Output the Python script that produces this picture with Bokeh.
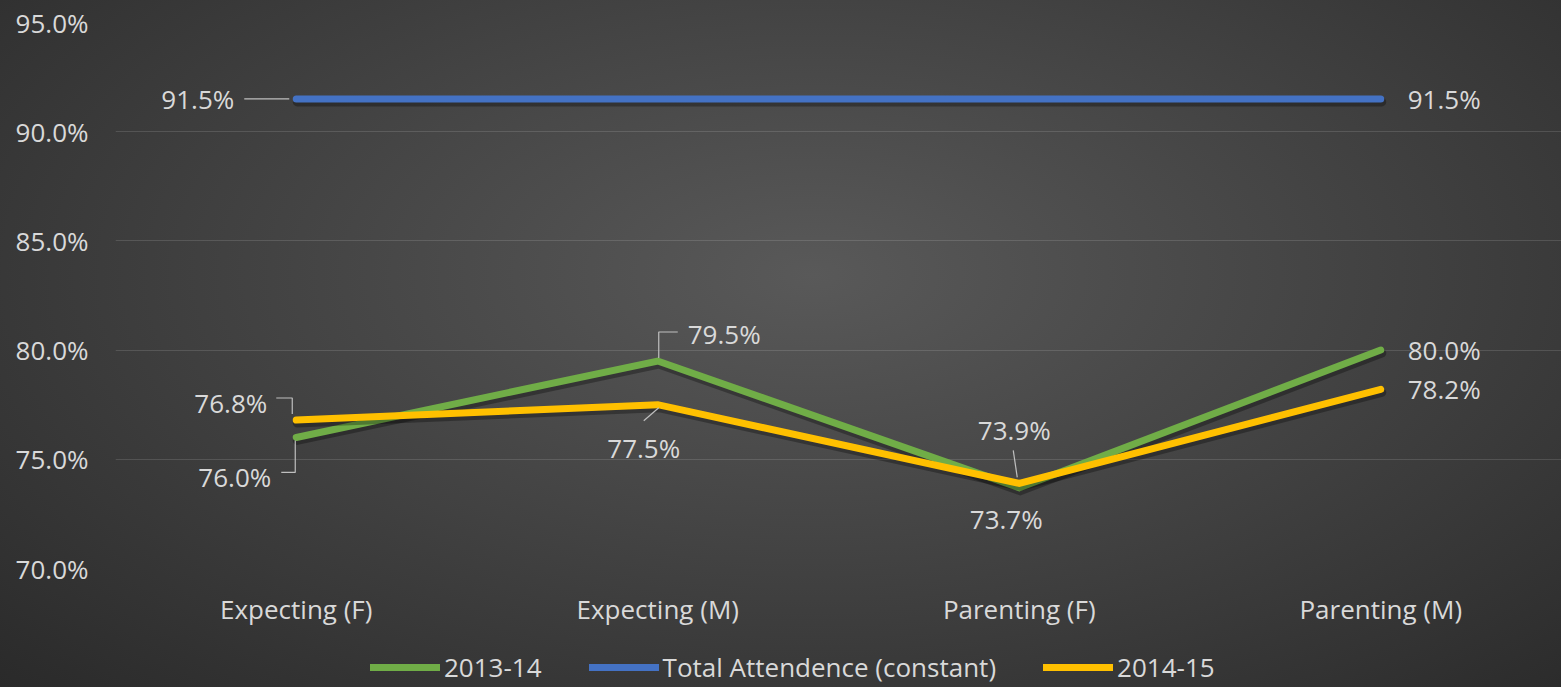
from bokeh.plotting import figure
from bokeh.layouts import column
from bokeh.models import Range1d, FixedTicker, PrintfTickFormatter, Legend, LegendItem, ColumnDataSource
from bokeh.core.properties import value
from bokeh.embed import file_html
from bokeh.resources import INLINE

# ---------------- data ----------------
categories = ["Expecting (F)", "Expecting (M)", "Parenting (F)", "Parenting (M)"]
series_2013_14 = [76.0, 79.5, 73.7, 80.0]
series_total = [91.5, 91.5, 91.5, 91.5]
series_2014_15 = [76.8, 77.5, 73.9, 78.2]
y_ticks = [70, 75, 80, 85, 90, 95]
series_names = ["2013-14", "Total Attendence (constant)", "2014-15"]

# ---------------- layout / style ----------------
W, H_MAIN, H_LEG = 1561, 632, 55
ML, MR, MT, MB = 115, 0, 22, 64
FW, FH = W - ML - MR, H_MAIN - MT - MB
Y0, Y1 = 70, 95
PX_X = FW / len(categories)
PX_Y = FH / (Y1 - Y0)
FONT = "Open Sans"
TXT = "#d9d9d9"
GREEN, BLUE, YELLOW = "#70ad47", "#4472c4", "#ffc000"
COLORS = [GREEN, BLUE, YELLOW]
ALL_SERIES = (series_2013_14, series_total, series_2014_15)

xs = [i + 0.5 for i in range(len(categories))]

p = figure(width=W, height=H_MAIN, x_range=Range1d(0, len(categories)), y_range=Range1d(Y0, Y1),
           output_backend="svg", toolbar_location=None,
           min_border_left=ML, min_border_right=MR, min_border_top=MT, min_border_bottom=MB)
p.border_fill_color = None
p.background_fill_color = None
p.outline_line_color = None

# axes
p.xaxis.ticker = FixedTicker(ticks=xs)
p.xaxis.major_label_overrides = {x: c for x, c in zip(xs, categories)}
p.yaxis.ticker = FixedTicker(ticks=y_ticks)
p.yaxis.formatter = PrintfTickFormatter(format="%.1f%%")
for ax in (p.xaxis[0], p.yaxis[0]):
    ax.axis_line_color = None
    ax.major_tick_line_color = None
    ax.minor_tick_line_color = None
    ax.major_tick_out = 0
    ax.major_tick_in = 0
    ax.major_label_text_font = FONT
    ax.major_label_text_font_size = "26px"
    ax.major_label_text_color = TXT
p.xaxis.major_label_standoff = 22
p.yaxis.major_label_standoff = 27
p.xgrid.grid_line_color = None
p.ygrid.grid_line_color = "#ffffff"
p.ygrid.grid_line_alpha = 0.13
p.ygrid.ticker = FixedTicker(ticks=y_ticks)

# lines (with soft shadow)
for vals, col in zip(ALL_SERIES, COLORS):
    p.line([x + 1.0 / PX_X for x in xs], [v - 3.0 / PX_Y for v in vals], line_color="black",
           line_alpha=0.3, line_width=9, line_cap="round", line_join="miter")
    p.line(xs, vals, line_color=col, line_width=7, line_cap="round", line_join="miter")

# data labels: (series, category index, text dx px, text dy px, align, leader path px)
series_map = {"s13": series_2013_14, "tot": series_total, "s14": series_2014_15}
label_layout = [
    ("tot", 0, -62, 0, "right", [(-52, 0), (-7, 0)]),
    ("tot", 3, 27, 0, "left", []),
    ("s13", 0, -25, 40, "right", [(-15, 35), (-1, 35), (-1, 3)]),
    ("s13", 1, 30, -27, "left", [(1, -3), (1, -29), (20, -29)]),
    ("s13", 2, -13, 31, "center", []),
    ("s13", 3, 27, 0, "left", []),
    ("s14", 0, -29, -17, "right", [(-20, -22), (-4, -22), (-4, -6)]),
    ("s14", 1, -14, 43, "center", [(-14, 16), (1, 3)]),
    ("s14", 2, -5, -53, "center", [(-6, -33), (-2, -6)]),
    ("s14", 3, 27, 0, "left", []),
]

lead_xs, lead_ys = [], []
by_align = {}
for key, i, dx, dy, align, path in label_layout:
    v = series_map[key][i]
    d = by_align.setdefault(align, {"x": [], "y": [], "t": [], "dx": [], "dy": []})
    d["x"].append(xs[i]); d["y"].append(v); d["t"].append(f"{v:.1f}%")
    d["dx"].append(dx); d["dy"].append(dy)
    if path:
        lead_xs.append([xs[i] + px / PX_X for px, _ in path])
        lead_ys.append([v - py / PX_Y for _, py in path])

p.multi_line(lead_xs, lead_ys, line_color="#bfbfbf", line_width=1.2)
for align, d in by_align.items():
    src = ColumnDataSource(d)
    p.text("x", "y", "t", x_offset="dx", y_offset="dy", source=src, text_align=align,
           text_baseline="middle", text_font=value(FONT), text_font_size="26px", text_color=TXT)

# ---------------- legend strip ----------------
# the series are drawn again here, but outside this strip's visible range, only to feed the legend
pl = figure(width=W, height=H_LEG, x_range=Range1d(0, 0.1), y_range=Range1d(0, 0.1),
            output_backend="svg", toolbar_location=None,
            x_axis_location=None, y_axis_location=None, min_border=0)
pl.border_fill_color = None
pl.background_fill_color = None
pl.outline_line_color = None
pl.grid.visible = False
leg_renderers = [pl.line(xs, vals, line_color=c, line_width=7, line_cap="round")
                 for vals, c in zip(ALL_SERIES, COLORS)]

legend = Legend(items=[LegendItem(label=n, renderers=[r]) for n, r in zip(series_names, leg_renderers)],
                orientation="horizontal", location=(255, 2))
legend.background_fill_alpha = 0
legend.border_line_alpha = 0
legend.label_text_color = TXT
legend.label_text_font = FONT
legend.label_text_font_size = "26px"
legend.label_height = 30
legend.glyph_width = 70
legend.glyph_height = 20
legend.label_standoff = 4
legend.spacing = 47
legend.padding = 0
legend.margin = 0
pl.add_layout(legend)

layout = column(p, pl, spacing=0,
                styles={"background-image": "radial-gradient(ellipse farthest-corner at 52% 40%, #595959 0%, #444444 45%, #2a2a2a 100%)",
                        "background-color": "#333333"})

open("out.html", "w").write(file_html(layout, INLINE))
